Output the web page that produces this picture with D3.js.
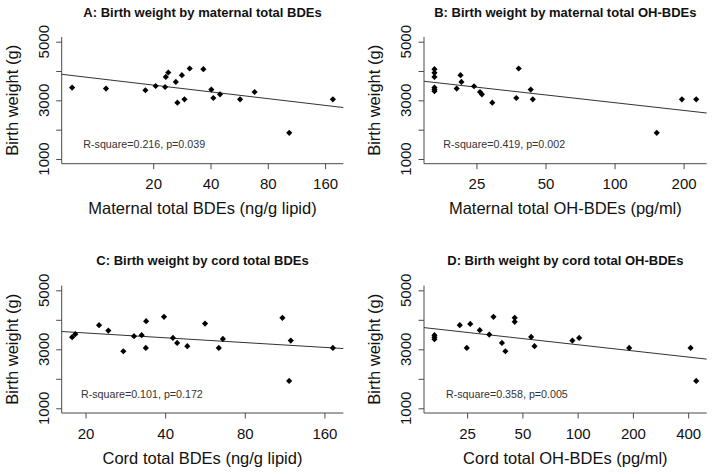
<!DOCTYPE html>
<html>
<head>
<meta charset="utf-8">
<script src="https://cdn.jsdelivr.net/npm/d3@7"></script>
<style>
  html, body { margin: 0; padding: 0; background: #fff; }
  svg { display: block; font-family: "Liberation Sans", Arial, sans-serif; }
</style>
</head>
<body>
<svg id="chart" width="714" height="474"></svg>
<script>
// ---------------- DATA ----------------
const panelTitles = [
  "A: Birth weight by maternal total BDEs",
  "B: Birth weight by maternal total OH-BDEs",
  "C: Birth weight by cord total BDEs",
  "D: Birth weight by cord total OH-BDEs"
];
const xAxisTitles = [
  "Maternal total BDEs (ng/g lipid)",
  "Maternal total OH-BDEs (pg/ml)",
  "Cord total BDEs (ng/g lipid)",
  "Cord total OH-BDEs (pg/ml)"
];
const yAxisTitle = "Birth weight (g)";
const statLabels = [
  "R-square=0.216, p=0.039",
  "R-square=0.419, p=0.002",
  "R-square=0.101, p=0.172",
  "R-square=0.358, p=0.005"
];
const xTicksA = [20, 40, 80, 160];
const xTicksB = [25, 50, 100, 200];
const xTicksC = [20, 40, 80, 160];
const xTicksD = [25, 50, 100, 200, 400];
const yTicks = [1000, 2000, 3000, 4000, 5000];
const yTickLabels = [1000, 3000, 5000];
const yLimits = [1000, 5000];

// Panel A: maternal total BDEs (ng/g lipid) vs birth weight (g)
const matBDE = [7.5, 11.3, 18.2, 20.6, 23.1, 23.3, 24.0, 26.3, 26.8, 28.3, 29.2, 31.1, 36.7, 40.4, 41.4, 44.9, 57.2, 68.2, 103.7, 175.8];
const bwA    = [3436, 3401, 3343, 3490, 3456, 3800, 3950, 3628, 2921, 3858, 3034, 4087, 4063, 3367, 3079, 3206, 3034, 3285, 1892, 3034];
// Panel B: maternal total OH-BDEs (pg/ml)
const matOH  = [16.4, 16.4, 16.4, 16.4, 16.4, 16.4, 20.5, 21.3, 21.5, 24.4, 25.9, 26.4, 29.3, 37.3, 38.2, 43.1, 44.0, 152.7, 196.6, 227];
const bwB    = [4063, 3937, 3799, 3436, 3367, 3309, 3401, 3858, 3628, 3480, 3285, 3206, 2921, 3079, 4087, 3367, 3034, 1892, 3034, 3034];
// Panel C: cord total BDEs (ng/g lipid)
const cordBDE = [17.8, 18.3, 22.5, 24.4, 27.8, 30.5, 32.6, 33.9, 33.8, 39.6, 42.8, 44.4, 48.5, 56.6, 63.8, 66.1, 111, 119.4, 117.7, 172.2];
const bwC     = [3411, 3513, 3818, 3635, 2935, 3445, 3479, 3954, 3048, 4100, 3387, 3217, 3105, 3873, 3048, 3353, 4066, 3295, 1927, 3048];
// Panel D: cord total OH-BDEs (pg/ml)
const cordOH = [16.6, 16.6, 16.6, 22.8, 24.9, 26.0, 29.3, 33.0, 34.8, 38.7, 40.4, 45.4, 45.4, 55.8, 58.2, 93.6, 101.9, 190.9, 412.4, 442.5];
const bwD    = [3480, 3410, 3340, 3818, 3048, 3862, 3649, 3499, 4100, 3217, 2935, 4066, 3930, 3421, 3105, 3295, 3387, 3048, 3048, 1927];

// Fitted regression lines: birth weight = intercept + slope * log10(x)
const fitIntercept = [4517, 4677, 4259, 4541];
const fitSlope     = [-766, -878, -542, -693];

// ---------------- LAYOUT ----------------
const layout = [
  { left: 61.7, right: 343.3, top: 37.0,  bottom: 163.7, statDx: 21.6 },
  { left: 424.0, right: 706.7, top: 37.0,  bottom: 163.7, statDx: 19.3 },
  { left: 61.7, right: 343.3, top: 285.6, bottom: 413.0, statDx: 19.3 },
  { left: 424.0, right: 706.7, top: 285.6, bottom: 413.0, statDx: 22.0 }
];
const xs = [matBDE, matOH, cordBDE, cordOH];
const ys = [bwA, bwB, bwC, bwD];
const xTicks = [xTicksA, xTicksB, xTicksC, xTicksD];

const svg = d3.select("#chart");
const axisColor = "#4a4a4a";

function paddedLogDomain(vals) {
  const lo = Math.log10(d3.min(vals)), hi = Math.log10(d3.max(vals));
  const pad = (hi - lo) * 0.04;
  return [Math.pow(10, lo - pad), Math.pow(10, hi + pad)];
}
const yPad = (yLimits[1] - yLimits[0]) * 0.04;
const yDomain = [yLimits[0] - yPad, yLimits[1] + yPad];

layout.forEach((L, i) => {
  const g = svg.append("g");
  const x = d3.scaleLog().domain(paddedLogDomain(xs[i])).range([L.left, L.right]);
  const y = d3.scaleLinear().domain(yDomain).range([L.bottom, L.top]);
  const cx = (L.left + L.right) / 2;
  const cy = (L.top + L.bottom) / 2;

  // L-shaped frame
  g.append("path")
    .attr("d", `M${L.left},${L.top}V${L.bottom}H${L.right}`)
    .attr("fill", "none").attr("stroke", axisColor).attr("stroke-width", 1);

  // x axis ticks
  const xAxis = d3.axisBottom(x).tickValues(xTicks[i]).tickFormat(d3.format("d"))
    .tickSize(5.5).tickSizeOuter(0);
  const gx = g.append("g").attr("transform", `translate(0,${L.bottom})`).call(xAxis);
  gx.select(".domain").remove();
  gx.selectAll(".tick line").attr("stroke", axisColor);
  gx.selectAll(".tick text").attr("y", 25.5).attr("dy", null)
    .attr("font-size", 15).attr("fill", "#111")
    .attr("font-family", "'Liberation Sans', Arial, sans-serif");

  // y axis ticks
  const yAxis = d3.axisLeft(y).tickValues(yTicks).tickSize(5.5).tickSizeOuter(0).tickFormat(() => "");
  const gy = g.append("g").attr("transform", `translate(${L.left},0)`).call(yAxis);
  gy.select(".domain").remove();
  gy.selectAll(".tick line").attr("stroke", axisColor);
  g.selectAll(".ylab").data(yTickLabels).enter().append("text")
    .attr("transform", d => `translate(${L.left - 13},${y(d)}) rotate(-90)`)
    .attr("text-anchor", "middle").attr("font-size", 15).attr("fill", "#111")
    .text(d => d);

  // regression line
  const dom = x.domain();
  g.append("line")
    .attr("x1", x(dom[0])).attr("y1", y(fitIntercept[i] + fitSlope[i] * Math.log10(dom[0])))
    .attr("x2", x(dom[1])).attr("y2", y(fitIntercept[i] + fitSlope[i] * Math.log10(dom[1])))
    .attr("stroke", "#333").attr("stroke-width", 1);

  // points (filled diamonds)
  const sym = d3.symbol().type(d3.symbolSquare).size(19);
  g.selectAll(".pt").data(xs[i].map((v, k) => [v, ys[i][k]])).enter().append("path")
    .attr("d", sym)
    .attr("transform", d => `translate(${x(d[0])},${y(d[1])}) rotate(45)`)
    .attr("fill", "#000");

  // stat label
  g.append("text").attr("x", L.left + L.statDx).attr("y", L.bottom - 15.5)
    .attr("font-size", 10.7).attr("fill", "#333").text(statLabels[i]);

  // title
  g.append("text").attr("x", cx).attr("y", L.top - 20.5)
    .attr("text-anchor", "middle").attr("font-size", 13).attr("font-weight", "bold")
    .attr("fill", "#111").text(panelTitles[i]);

  // x axis title
  g.append("text").attr("x", cx).attr("y", L.bottom + 50.5)
    .attr("text-anchor", "middle").attr("font-size", 16.5).attr("fill", "#111")
    .text(xAxisTitles[i]);

  // y axis title
  g.append("text")
    .attr("transform", `translate(${L.left - 43.75},${cy}) rotate(-90)`)
    .attr("text-anchor", "middle").attr("font-size", 16.5).attr("fill", "#111")
    .text(yAxisTitle);
});
</script>
</body>
</html>
